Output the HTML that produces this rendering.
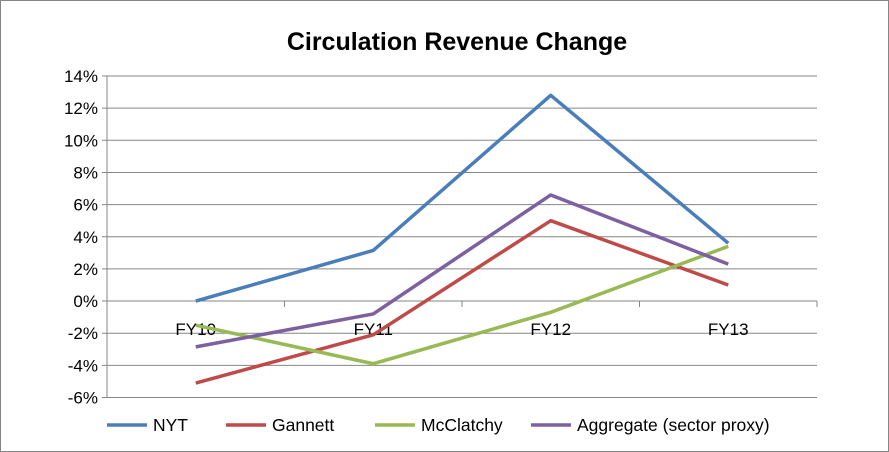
<!DOCTYPE html>
<html><head><meta charset="utf-8"><style>
html,body{margin:0;padding:0;background:#fff}
svg{display:block;font-family:"Liberation Sans",Arial,sans-serif}
</style></head><body>
<svg id="chart" width="889" height="452">
<rect x="0.5" y="0.5" width="888" height="451" fill="#fff" stroke="#868686"/>
<text x="457" y="50" text-anchor="middle" font-size="25" font-weight="bold" fill="#000">Circulation Revenue Change</text>
<g id="grid"></g><g id="axes"></g><g id="series"></g><g id="legend"></g>
</svg>
<script>
const categories=["FY10","FY11","FY12","FY13"];
const yTicks=[-6,-4,-2,0,2,4,6,8,10,12,14];
const seriesNames=["NYT","Gannett","McClatchy","Aggregate (sector proxy)"];
const seriesColors=["#4a7ebb","#be4b48","#98b954","#7d60a0"];
const nyt=[0,3.15,12.8,3.6];
const gannett=[-5.1,-2.1,5.0,1.0];
const mcclatchy=[-1.5,-3.9,-0.7,3.4];
const aggregate=[-2.85,-0.8,6.6,2.3];
const allSeries=[nyt,gannett,mcclatchy,aggregate];
const NS="http://www.w3.org/2000/svg";
const L=107,R=817,T=76,B=397.5,ymin=-6,ymax=14;
const bw=(R-L)/categories.length;
function x(i){return L+bw*(i+0.5);}
function y(v){return B-(v-ymin)/(ymax-ymin)*(B-T);}
function mk(t,a,p){const e=document.createElementNS(NS,t);for(const k in a)e.setAttribute(k,a[k]);p.appendChild(e);return e;}
const grid=document.getElementById('grid'),axes=document.getElementById('axes'),ser=document.getElementById('series'),leg=document.getElementById('legend');
yTicks.forEach(v=>{
 const g=mk('line',{x1:L-5,x2:R,y1:y(v),y2:y(v),stroke:'#868686','stroke-width':1},grid);
 
 
 const t=mk('text',{x:L-9,y:y(v)+6,'text-anchor':'end','font-size':17,fill:'#000'},axes);
 t.textContent=v+'%';
 
 
});
const ya=mk('line',{x1:L,x2:L,y1:T,y2:B,stroke:'#868686'},axes);


for(let i=0;i<=categories.length;i++){
 const tk=mk('line',{x1:L+bw*i,x2:L+bw*i,y1:y(0),y2:y(0)+6,stroke:'#868686'},axes);
 
 
}
categories.forEach((c,i)=>{
 const t=mk('text',{x:x(i),y:y(0)+34,'text-anchor':'middle','font-size':17,fill:'#000'},axes);
 t.textContent=c;
 
 
});
allSeries.forEach((s,k)=>{
 const p=mk('polyline',{points:s.map((v,i)=>x(i)+','+y(v)).join(' '),fill:'none',stroke:seriesColors[k],'stroke-width':3.5,'stroke-linejoin':'round'},ser);
 
 
});
const lx=[107,226,375,531];
seriesNames.forEach((n,k)=>{
 const l=mk('line',{x1:lx[k],x2:lx[k]+40,y1:425,y2:425,stroke:seriesColors[k],'stroke-width':3.5},leg);
 
 
 const t=mk('text',{x:lx[k]+46,y:431,'font-size':17.5,fill:'#000'},leg);
 t.textContent=n;
 
 
});
</script>
</body></html>
